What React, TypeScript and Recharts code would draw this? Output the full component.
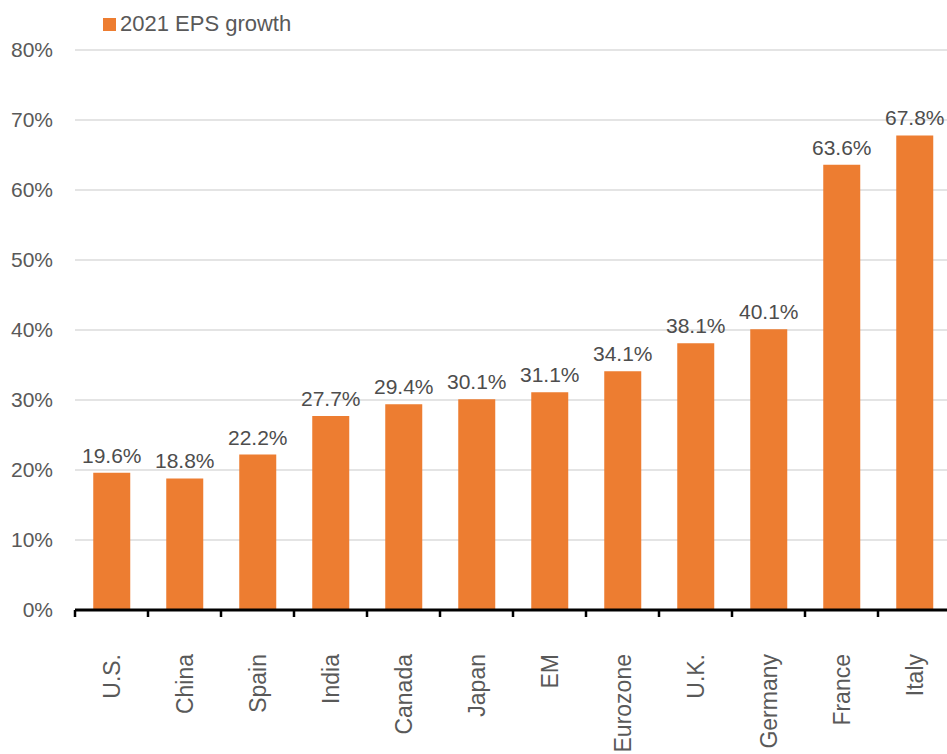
import React from "react";
import {
  BarChart,
  Bar,
  XAxis,
  YAxis,
  CartesianGrid,
  LabelList,
} from "recharts";

const COUNTRIES = [
  "U.S.",
  "China",
  "Spain",
  "India",
  "Canada",
  "Japan",
  "EM",
  "Eurozone",
  "U.K.",
  "Germany",
  "France",
  "Italy",
];
const EPS_GROWTH = [19.6, 18.8, 22.2, 27.7, 29.4, 30.1, 31.1, 34.1, 38.1, 40.1, 63.6, 67.8];
const Y_TICKS = [0, 10, 20, 30, 40, 50, 60, 70, 80];

const ORANGE = "#ED7D31";
const TEXT = "#595959";
const FONT = "'Liberation Sans', Arial, sans-serif";

const CHART_W = 960;
const CHART_H = 754;
const MARGIN = { top: 50, right: 9, bottom: 0, left: 0 };
const Y_W = 75;
const STEP = (CHART_W - MARGIN.left - MARGIN.right - Y_W) / COUNTRIES.length;

const data = COUNTRIES.map((name, i) => ({ name, value: EPS_GROWTH[i] }));

const CountryTick = ({ x, y, payload, index }: any) => (
  <g>
    <line x1={x - STEP / 2} y1={y} x2={x - STEP / 2} y2={y + 7} stroke="#000" strokeWidth={2.5} />
    {index === COUNTRIES.length - 1 && (
      <line x1={x + STEP / 2} y1={y} x2={x + STEP / 2} y2={y + 7} stroke="#000" strokeWidth={2.5} />
    )}
    <text
      x={0}
      y={0}
      transform={`translate(${x},${y + 44}) rotate(-90)`}
      textAnchor="end"
      dominantBaseline="central"
      fill={TEXT}
      fontSize={23}
      fontFamily={FONT}
    >
      {payload.value}
    </text>
  </g>
);

const App = () => (
  <div style={{ position: "relative", width: 947, height: 754, overflow: "hidden", background: "#fff" }}>
    <style>{`body{margin:0}`}</style>
    <div
      style={{
        position: "absolute",
        left: 103,
        top: 11,
        display: "flex",
        alignItems: "center",
        fontFamily: FONT,
        fontSize: 22,
        color: TEXT,
      }}
    >
      <span style={{ width: 13, height: 13, background: ORANGE, display: "inline-block", marginRight: 4 }} />
      2021 EPS growth
    </div>
    <BarChart width={CHART_W} height={CHART_H} data={data} margin={MARGIN} barCategoryGap="25%">
      <CartesianGrid vertical={false} stroke="#c9c9c9" strokeWidth={1.2} />
      <YAxis
        width={Y_W}
        domain={[0, 80]}
        ticks={Y_TICKS}
        axisLine={false}
        tickLine={false}
        tickSize={0}
        tickMargin={22}
        tickFormatter={(v) => `${v}%`}
        tick={{ fill: TEXT, fontSize: 21, fontFamily: FONT }}
      />
      <XAxis
        dataKey="name"
        height={144}
        interval={0}
        tickSize={0}
        tickMargin={0}
        tickLine={false}
        axisLine={{ stroke: "#000", strokeWidth: 3 }}
        tick={<CountryTick />}
      />
      <Bar dataKey="value" fill={ORANGE} isAnimationActive={false}>
        <LabelList
          dataKey="value"
          position="top"
          offset={10}
          formatter={(v: any) => `${Number(v).toFixed(1)}%`}
          fill="#4d4d4d"
          fontSize={21}
          fontFamily={FONT}
        />
      </Bar>
    </BarChart>
  </div>
);

export default App;
